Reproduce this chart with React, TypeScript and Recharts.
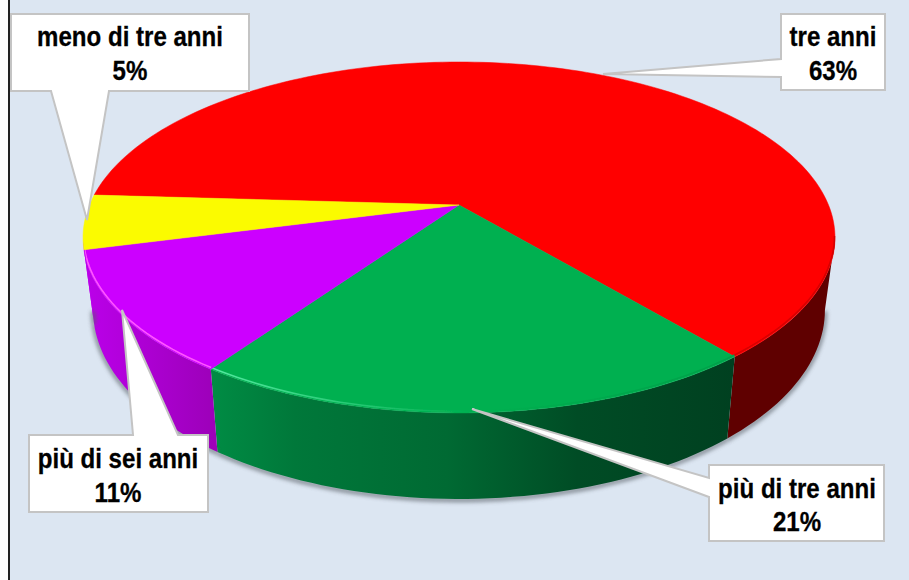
import { Cell, Pie, PieChart } from "recharts";

const categories = ["tre anni", "più di tre anni", "più di sei anni", "meno di tre anni"];
const shares = [63, 20.7, 11.3, 5];
const topColors = ["#ff0000", "#00b050", "#cc00ff", "#fbfb00"];
const edgeColors = ["#d80000", "url(#greenEdge)", "#ff55ff", "#ff55ff"];
const wallFills = ["#5f0000", "url(#greenWall)", "url(#purpleWall)", "#bb00ea"];

const data = categories.map((category, i) => ({ category, share: shares[i] }));

// white callout boxes: box edges, pointer tip, where the pointer leaves the box
const callouts = [
  { box: [781, 14, 885, 90], tip: [603, 74], base: [[781, 59], [781, 77]], cx: 833, lines: [46, 80] },
  { box: [709, 465, 884, 541], tip: [472, 409], base: [[709, 478], [709, 497]], cx: 797, lines: [498, 531] },
  { box: [29, 435, 208, 512], tip: [122, 310], base: [[133, 435], [178, 435]], cx: 118, lines: [468, 502] },
  { box: [11, 14, 249, 91], tip: [87, 220], base: [[51, 91], [109, 91]], cx: 130, lines: [46, 80] },
];

// the pie is seen in perspective: the far half is squeezed, the near half stretched
const TOP_SQUASH = 0.4587;
const FOOT_SQUASH = 0.5075;
const RECEDE = 0.185;
const TOP_R = 369.5;
const FOOT_R = 359.6;
const FOOT_DROP = 70;

function project(cx: number, cy: number, r: number, squash: number, deg: number) {
  const u = Math.cos((deg * Math.PI) / 180);
  const v = Math.sin((deg * Math.PI) / 180);
  const s = 1 / (1 + RECEDE * v);
  return [cx + r * u * s, cy - r * squash * v * s];
}

function arc(cx: number, cy: number, r: number, squash: number, from: number, to: number) {
  const steps = Math.max(2, Math.ceil(Math.abs(from - to) / 1.5));
  const pts: number[][] = [];
  for (let i = 0; i <= steps; i++) {
    pts.push(project(cx, cy, r, squash, from + ((to - from) * i) / steps));
  }
  return pts;
}

const toPath = (pts: number[][]) =>
  pts.map((p, i) => `${i ? "L" : "M"}${p[0].toFixed(2)} ${p[1].toFixed(2)}`).join(" ");

function Slice(props: any) {
  const { cx, cy, startAngle, endAngle, category } = props;
  const idx = categories.indexOf(category);
  const from = Math.min(startAngle, -10.7);
  const to = Math.max(endAngle, -169.3);
  const hasWall = from > to;
  const top = arc(cx, cy, TOP_R, TOP_SQUASH, startAngle, endAngle);
  return (
    <g>
      {hasWall && (
        <>
          <path
            d={toPath(arc(cx, cy + FOOT_DROP + 1, FOOT_R, FOOT_SQUASH, from, to))}
            fill="none"
            stroke="#5a6068"
            strokeWidth={4}
            opacity={0.75}
            filter="url(#softEdge)"
          />
          <path
            d={`${toPath(arc(cx, cy, TOP_R, TOP_SQUASH, from, to))} L${toPath(
              arc(cx, cy + FOOT_DROP, FOOT_R, FOOT_SQUASH, to, from),
            ).slice(1)} Z`}
            fill={wallFills[idx]}
          />
        </>
      )}
      <path
        d={`M${cx} ${cy} L${toPath(top).slice(1)} Z`}
        fill={topColors[idx]}
        stroke={topColors[idx]}
        strokeWidth={0.5}
      />
      {hasWall && idx !== 3 && (
        <path
          d={toPath(arc(cx, cy - 1.5, TOP_R - 0.5, TOP_SQUASH, from, to))}
          fill="none"
          stroke={edgeColors[idx]}
          strokeWidth={1.6}
          filter="url(#softLine)"
        />
      )}
    </g>
  );
}

function Callout(props: any) {
  const idx = props.index;
  const c = callouts[idx];
  const [x0, y0, x1, y1] = c.box;
  const outline =
    idx === 2
      ? [[x0, y0], c.base[0], c.tip, c.base[1], [x1, y0], [x1, y1], [x0, y1]]
      : idx === 3
        ? [[x0, y0], [x1, y0], [x1, y1], c.base[1], c.tip, c.base[0], [x0, y1]]
        : [[x0, y0], [x1, y0], [x1, y1], [x0, y1], c.base[1], c.tip, c.base[0]];
  const text = [categories[idx], `${Math.round(shares[idx])}%`];
  return (
    <g>
      <path d={`${toPath(outline)} Z`} fill="#ffffff" stroke="#c4c4c4" strokeWidth={2} />
      {text.map((t, i) => (
        <text
          key={t}
          transform={`translate(${c.cx} ${c.lines[i]}) scale(0.86 1)`}
          textAnchor="middle"
          fontFamily="'Liberation Sans', Arial, sans-serif"
          fontWeight={700}
          fontSize={28}
          fill="#000000"
          stroke="#000000"
          strokeWidth={0.3}
        >
          {t}
        </text>
      ))}
    </g>
  );
}

export default function App() {
  return (
    <div style={{ position: "absolute", left: 0, top: 0, width: 909, height: 580, background: "#ffffff" }}>
      <div
        style={{
          position: "absolute",
          left: 8,
          top: 0,
          width: 901,
          height: 580,
          boxSizing: "border-box",
          background: "#dce6f2",
          borderLeft: "2px solid #222222",
        }}
      />
      <div style={{ position: "absolute", left: 0, top: 0 }}>
        <PieChart width={909} height={580} margin={{ top: 0, right: 0, bottom: 0, left: 0 }}>
          <defs>
            <linearGradient id="greenWall" x1="0" y1="0" x2="1" y2="0">
              <stop offset="0" stopColor="#008c44" />
              <stop offset="0.16" stopColor="#00783a" />
              <stop offset="0.45" stopColor="#006a33" />
              <stop offset="0.7" stopColor="#004c25" />
              <stop offset="1" stopColor="#004020" />
            </linearGradient>
            <linearGradient id="greenEdge" x1="0" y1="0" x2="1" y2="0">
              <stop offset="0" stopColor="#55e8a0" />
              <stop offset="0.5" stopColor="#00b050" />
              <stop offset="1" stopColor="#00a049" />
            </linearGradient>
            <linearGradient id="purpleWall" x1="0" y1="0" x2="1" y2="0">
              <stop offset="0" stopColor="#bb00ea" />
              <stop offset="1" stopColor="#9c00b8" />
            </linearGradient>
            <filter id="softEdge" filterUnits="userSpaceOnUse" x="0" y="0" width="909" height="580">
              <feGaussianBlur stdDeviation="2" />
            </filter>
            <filter id="softLine" filterUnits="userSpaceOnUse" x="0" y="0" width="909" height="580">
              <feGaussianBlur stdDeviation="0.6" />
            </filter>
          </defs>
          <Pie
            data={data}
            dataKey="share"
            nameKey="category"
            cx={459}
            cy={205}
            outerRadius={TOP_R}
            startAngle={176.6}
            endAngle={-183.4}
            stroke="none"
            shape={Slice}
            activeShape={Slice}
            inactiveShape={Slice}
            label={Callout}
            labelLine={false}
            isAnimationActive={false}
          >
            {categories.map((c, i) => (
              <Cell key={c} fill={topColors[i]} />
            ))}
          </Pie>
        </PieChart>
      </div>
    </div>
  );
}
